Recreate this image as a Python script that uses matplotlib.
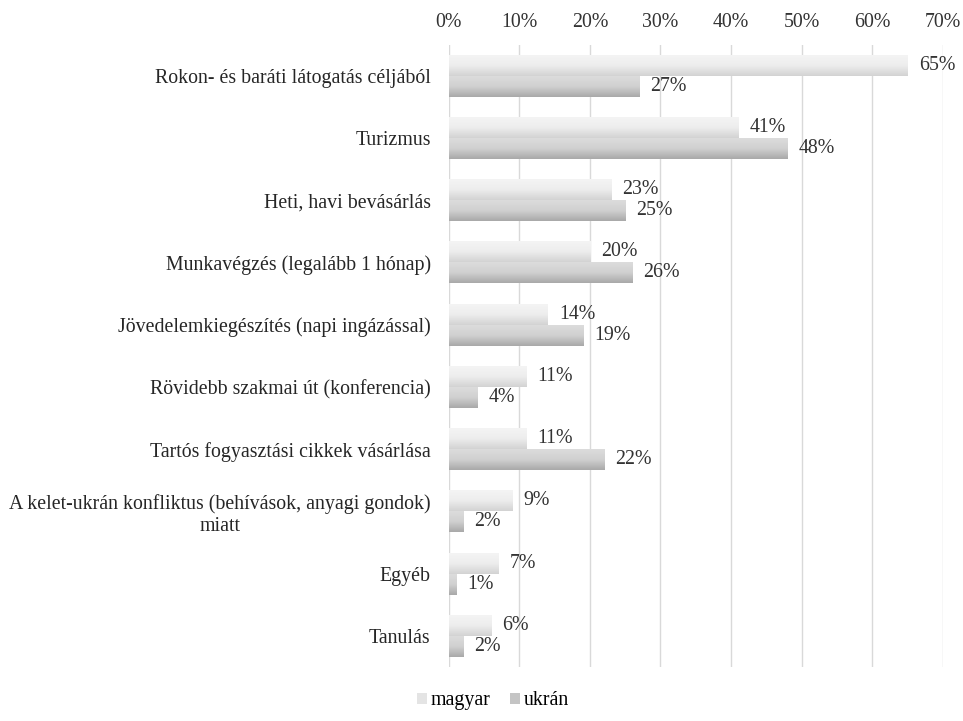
import matplotlib.pyplot as plt
import numpy as np
from matplotlib.colors import LinearSegmentedColormap
from matplotlib.patches import Rectangle

categories = ['Rokon- és baráti látogatás céljából', 'Turizmus', 'Heti, havi bevásárlás',
              'Munkavégzés (legalább 1 hónap)', 'Jövedelemkiegészítés (napi ingázással)',
              'Rövidebb szakmai út (konferencia)', 'Tartós fogyasztási cikkek vásárlása',
              'A kelet-ukrán konfliktus (behívások, anyagi gondok)\nmiatt', 'Egyéb', 'Tanulás']
magyar = [65, 41, 23, 20, 14, 11, 11, 9, 7, 6]
ukran = [27, 48, 25, 26, 19, 4, 22, 2, 1, 2]
series_names = ['magyar', 'ukrán']

plt.rcParams['font.family'] = ['Liberation Serif', 'DejaVu Serif']
fs = 14.3

fig = plt.figure(figsize=(9.63, 7.21), dpi=100)
ax = fig.add_axes([0.466, 0.075, 0.513, 0.863])

cmap_m = LinearSegmentedColormap.from_list('m', ['#f4f4f4', '#ededed', '#d3d3d3'])
cmap_u = LinearSegmentedColormap.from_list('u', ['#dcdcdc', '#d0d0d0', '#a9a9a9'])
grad = np.linspace(0, 1, 64).reshape(-1, 1)

n = len(categories)
y = np.arange(n)
h = 0.337

def gradient_bar(x, yc, height, cmap):
    # vertical gradient like the Excel fill
    ax.imshow(grad, cmap=cmap, aspect='auto', origin='upper',
              extent=[0, x, yc + height / 2, yc - height / 2], zorder=2, vmin=0, vmax=1)

for i in range(n):
    ym = y[i] - h / 2
    yu = y[i] + h / 2
    gradient_bar(magyar[i], ym, h, cmap_m)
    gradient_bar(ukran[i], yu, h, cmap_u)
    ax.text(magyar[i] + 1.6, ym, f'{magyar[i]}%', va='center', ha='left', color='#333333', fontsize=fs)
    ax.text(ukran[i] + 1.6, yu, f'{ukran[i]}%', va='center', ha='left', color='#333333', fontsize=fs)

ax.set_xlim(0, 70)
ax.set_ylim(n - 0.5, -0.5)
ax.set_xticks(range(0, 71, 10))
ax.set_xticklabels([f'{v}%' for v in range(0, 71, 10)])
ax.xaxis.tick_top()
ax.set_yticks(y)
ax.set_yticklabels(categories, ha='right', multialignment='center')
ax.tick_params(axis='y', pad=13, length=0, labelcolor='#262626', labelsize=fs)
ax.tick_params(axis='x', length=0, pad=9, labelcolor='#333333', labelsize=fs)
ax.grid(axis='x', color='#d9d9d9', linewidth=1)
ax.set_axisbelow(True)
for s in ax.spines.values():
    s.set_visible(False)

handles = [Rectangle((0, 0), 1, 1, facecolor='#e4e4e4'),
           Rectangle((0, 0), 1, 1, facecolor='#c4c4c4')]
fig.legend(handles, series_names, loc='center', bbox_to_anchor=(0.512, 0.028), ncol=2,
           frameon=False, handlelength=0.5, handleheight=0.5, handletextpad=0.2,
           columnspacing=1.0, fontsize=fs)

fig.savefig('out.png', dpi=100)
